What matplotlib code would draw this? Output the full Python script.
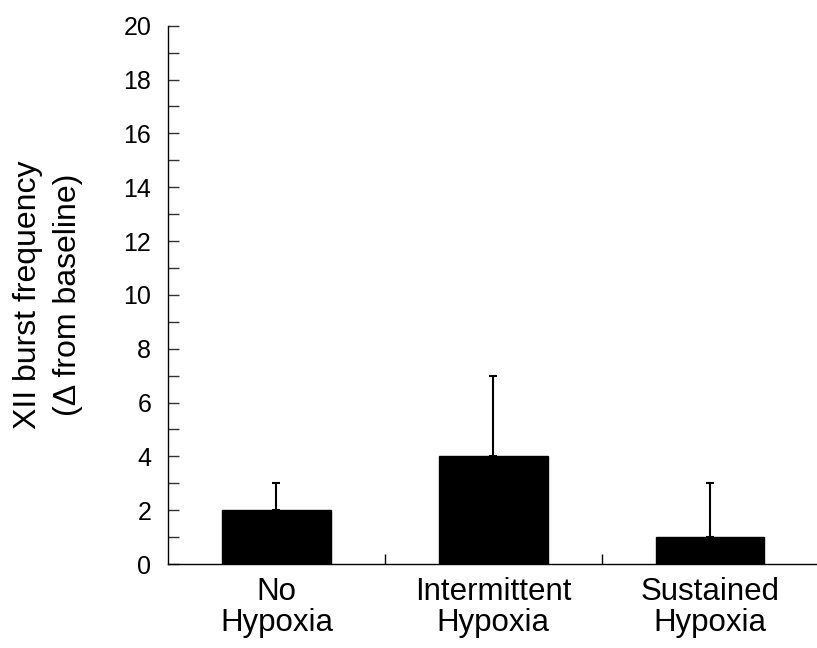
import numpy as np
import matplotlib
matplotlib.use("Agg")
import matplotlib.pyplot as plt
from matplotlib.ticker import MultipleLocator, FixedLocator, NullFormatter

# data
groups = ["No\nHypoxia", "Intermittent\nHypoxia", "Sustained\nHypoxia"]
means = [2, 4, 1]
errs = [1, 3, 2]

plt.rcParams['font.family'] = ['Liberation Sans', 'DejaVu Sans']

fig = plt.figure(figsize=(8.17, 6.48), dpi=100)
ax = fig.add_axes([0.2056, 0.1296, 0.7964, 0.8307])

x = np.arange(len(groups))
ax.bar(x, means, width=0.5, color='black', edgecolor='black', zorder=2)
# only the upper half of the error bar
ax.errorbar(x, means, yerr=[np.zeros(len(errs)), errs], fmt='none',
            ecolor='black', elinewidth=1.5, capsize=3, capthick=1.5, zorder=3)

ax.set_xlim(-0.5, 2.5)
ax.set_ylim(0, 20)

for s in ['top', 'right']:
    ax.spines[s].set_visible(False)
for s in ['left', 'bottom']:
    ax.spines[s].set_color('black')
    ax.spines[s].set_linewidth(1.0)

ax.yaxis.set_major_locator(MultipleLocator(2))
ax.yaxis.set_minor_locator(MultipleLocator(1))
ax.tick_params(axis='y', which='both', direction='in', length=8, width=1,
               colors='#333333', labelcolor='black', labelsize=18, pad=12)

# category labels on minor positions, divider ticks on majors
ax.xaxis.set_major_locator(FixedLocator([0.5, 1.5]))
ax.xaxis.set_major_formatter(NullFormatter())
ax.xaxis.set_minor_locator(FixedLocator(x))
ax.set_xticklabels(groups, minor=True, linespacing=1.08)
ax.tick_params(axis='x', which='major', direction='in', length=7, width=1)
ax.tick_params(axis='x', which='minor', length=0, labelsize=22.5, pad=9)

ax.set_ylabel("XII burst frequency\n(\u0394 from baseline)", fontsize=23,
              linespacing=1.45, labelpad=29)

fig.savefig("out.png", dpi=100)
